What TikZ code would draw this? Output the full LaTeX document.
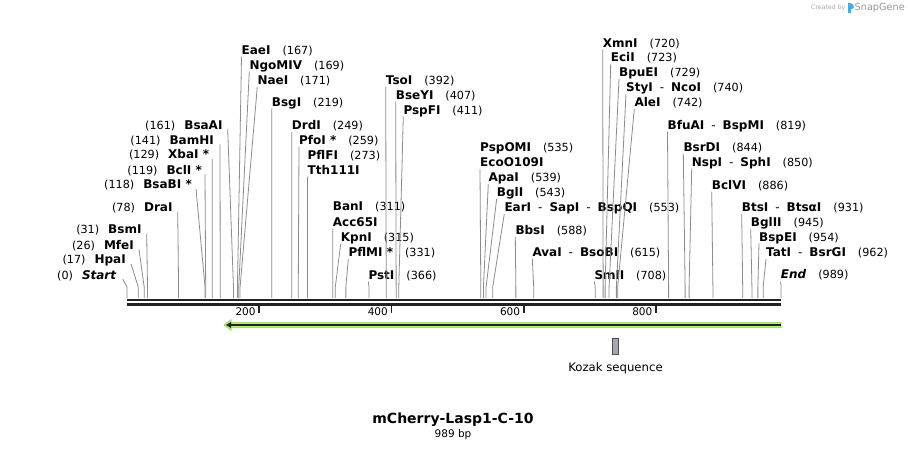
\documentclass[tikz,border=0pt]{standalone}
\usepackage{fontspec}
\setmainfont{DejaVu Sans}
\usetikzlibrary{arrows.meta}

\definecolor{leadgray}{RGB}{140,140,140}
\definecolor{barblack}{RGB}{34,34,34}
\definecolor{featgreen}{RGB}{180,240,120}
\definecolor{featedge}{RGB}{140,210,90}
\definecolor{kozakgray}{RGB}{164,167,171}
\definecolor{credgray}{RGB}{170,170,170}
\definecolor{snapblue}{RGB}{70,170,230}

\newcommand{\bpnum}[1]{\hspace{12pt}{\mdseries\fontsize{11.2}{13}\selectfont(#1)}}
\newcommand{\lnum}[1]{{\mdseries\fontsize{11.2}{13}\selectfont(#1)}\hspace{9pt}}
\newcommand{\dsep}{\hspace{7pt}{\mdseries -}\hspace{7pt}}

\begin{document}
\begin{tikzpicture}[x=1pt, y=-1pt,
    enz/.style={inner sep=0pt, font=\fontsize{12}{14}\selectfont\bfseries, text height=9pt, text depth=2pt},
    rlab/.style={enz, anchor=base west},
    llab/.style={enz, anchor=base east},
    leader/.style={draw=leadgray, line width=0.8pt},
    bar/.style={draw=barblack, line width=2.6pt},
    tick/.style={draw=barblack, line width=1.6pt},
    ticklbl/.style={inner sep=0pt, font=\fontsize{10.5}{12}\selectfont, anchor=east}]
  \fill[white] (0,0) rectangle (908,449);
  \useasboundingbox (0,0) rectangle (908,449);

  % cut sites on the sequence
  \foreach \p in {0,17,26,31,78,118,119,129,141,161,167,169,171,219,249,259,273,311,315,331,366,392,407,411,535,539,543,553,588,615,708,720,723,729,740,742,819,844,850,886,931,945,954,962,989}
    \coordinate (s\p) at ({127+0.6613*\p},298);

  % sequence and ruler
  \draw[bar] (127,300) -- (781,300);
  \draw[bar] (127,304.5) -- (781,304.5);
  \foreach \t in {200,400,600,800} {
    \draw[tick] ({127+0.6613*\t},305.5) -- ++(0,7.5);
    \node[ticklbl] (t\t) at ({127+0.6613*\t-3.5},312) {\t};
  }

  % enzymes, left side
  \node[llab] (Start) at (116.7,279.1) {\lnum{0}\textit{Start}};
  \node[llab] (HpaI) at (126,263.9) {\lnum{17}HpaI};
  \node[llab] (MfeI) at (134,249.4) {\lnum{26}MfeI};
  \node[llab] (BsmI) at (141.7,233.9) {\lnum{31}BsmI};
  \node[llab] (DraI) at (172.7,211.7) {\lnum{78}DraI};
  \node[llab] (BsaBI) at (192,188.9) {\lnum{118}BsaBI~*};
  \node[llab] (BclI) at (202,174.4) {\lnum{119}BclI~*};
  \node[llab] (XbaI) at (209.3,158.9) {\lnum{129}XbaI~*};
  \node[llab] (BamHI) at (214,144.4) {\lnum{141}BamHI};
  \node[llab] (BsaAI) at (222.7,129.4) {\lnum{161}BsaAI};
  \draw[leader] ([xshift=6pt]Start.base east) -- ([yshift=11pt]s0) -- (s0);
  \draw[leader] ([xshift=5pt]HpaI.base east) -- ([yshift=11pt]s17) -- (s17);
  \draw[leader] ([xshift=5pt]MfeI.base east) -- ([yshift=11pt]s26) -- (s26);
  \draw[leader] ([xshift=5pt]BsmI.base east) -- ([yshift=11pt]s31) -- (s31);
  \draw[leader] ([xshift=5pt]DraI.base east) -- ([yshift=11pt]s78) -- (s78);
  \draw[leader] ([xshift=4pt]BsaBI.base east) -- ([yshift=11pt]s118) -- (s118);
  \draw[leader] ([xshift=3pt]BclI.base east) -- ([yshift=11pt]s119) -- (s119);
  \draw[leader] ([xshift=3pt]XbaI.base east) -- ([yshift=11pt]s129) -- (s129);
  \draw[leader] ([xshift=6pt]BamHI.base east) -- ([yshift=11pt]s141) -- (s141);
  \draw[leader] ([xshift=5pt]BsaAI.base east) -- ([yshift=11pt]s161) -- (s161);

  % enzymes, right side
  \node[rlab] (EaeI) at (241.5,54.4) {EaeI\bpnum{167}};
  \node[rlab] (NgoMIV) at (249.3,69.4) {NgoMIV\bpnum{169}};
  \node[rlab] (NaeI) at (257.3,84.4) {NaeI\bpnum{171}};
  \node[rlab] (BsgI) at (271.7,106.4) {BsgI\bpnum{219}};
  \node[rlab] (DrdI) at (291.7,129.9) {DrdI\bpnum{249}};
  \node[rlab] (PfoI) at (299,144.4) {PfoI~*\bpnum{259}};
  \node[rlab] (PflFI) at (307.5,159.4) {PflFI\bpnum{273}};
  \node[rlab] (Tth111I) at (307.5,174.4) {Tth111I};
  \node[rlab] (BanI) at (332.7,210.4) {BanI\bpnum{311}};
  \node[rlab] (Acc65I) at (332.7,226.7) {Acc65I};
  \node[rlab] (KpnI) at (340.7,241.7) {KpnI\bpnum{315}};
  \node[rlab] (PflMI) at (348.3,256.7) {PflMI~*\bpnum{331}};
  \node[rlab] (PstI) at (368.3,279.4) {PstI\bpnum{366}};
  \node[rlab] (TsoI) at (385.7,84.4) {TsoI\bpnum{392}};
  \node[rlab] (BseYI) at (395.7,99.4) {BseYI\bpnum{407}};
  \node[rlab] (PspFI) at (403.3,114.4) {PspFI\bpnum{411}};
  \node[rlab] (PspOMI) at (480,151.7) {PspOMI\bpnum{535}};
  \node[rlab] (EcoO109I) at (480,166.7) {EcoO109I};
  \node[rlab] (ApaI) at (488.3,181.7) {ApaI\bpnum{539}};
  \node[rlab] (BglI) at (496.7,196.4) {BglI\bpnum{543}};
  \node[rlab] (EarI) at (504.3,211.7) {EarI\dsep SapI\dsep BspQI\bpnum{553}};
  \node[rlab] (BbsI) at (515.3,234.4) {BbsI\bpnum{588}};
  \node[rlab] (AvaI) at (532.3,256.4) {AvaI\dsep BsoBI\bpnum{615}};
  \node[rlab] (SmlI) at (594.3,279.1) {SmlI\bpnum{708}};
  \node[rlab] (XmnI) at (602.7,47.1) {XmnI\bpnum{720}};
  \node[rlab] (EciI) at (610.7,61.7) {EciI\bpnum{723}};
  \node[rlab] (BpuEI) at (619,76.7) {BpuEI\bpnum{729}};
  \node[rlab] (StyI) at (626,91.7) {StyI\dsep NcoI\bpnum{740}};
  \node[rlab] (AleI) at (634.3,106.7) {AleI\bpnum{742}};
  \node[rlab] (BfuAI) at (667.5,129.4) {BfuAI\dsep BspMI\bpnum{819}};
  \node[rlab] (BsrDI) at (683.3,151.4) {BsrDI\bpnum{844}};
  \node[rlab] (NspI) at (691.7,166.4) {NspI\dsep SphI\bpnum{850}};
  \node[rlab] (BclVI) at (711.7,189.4) {BclVI\bpnum{886}};
  \node[rlab] (BtsI) at (741.7,211.7) {BtsI\dsep BtsαI\bpnum{931}};
  \node[rlab] (BglII) at (750.7,226.7) {BglII\bpnum{945}};
  \node[rlab] (BspEI) at (759,241.1) {BspEI\bpnum{954}};
  \node[rlab] (TatI) at (766,256.7) {TatI\dsep BsrGI\bpnum{962}};
  \node[rlab] (End) at (780.7,278.9) {\textit{End}\bpnum{989}};

  \draw[leader] (EaeI.south west) -- ([yshift=11pt]s167) -- (s167);
  \draw[leader] (NgoMIV.south west) -- ([yshift=11pt]s169) -- (s169);
  \draw[leader] (NaeI.south west) -- ([yshift=11pt]s171) -- (s171);
  \draw[leader] (BsgI.south west) -- ([yshift=11pt]s219) -- (s219);
  \draw[leader] (DrdI.south west) -- ([yshift=11pt]s249) -- (s249);
  \draw[leader] (PfoI.south west) -- ([yshift=11pt]s259) -- (s259);
  \draw[leader] (Tth111I.south west) -- ([yshift=11pt]s273) -- (s273);
  \draw[leader] (Acc65I.south west) -- ([yshift=11pt]s311) -- (s311);
  \draw[leader] (KpnI.south west) -- ([yshift=11pt]s315) -- (s315);
  \draw[leader] (PflMI.south west) -- ([yshift=11pt]s331) -- (s331);
  \draw[leader] (PstI.south west) -- ([yshift=11pt]s366) -- (s366);
  \draw[leader] (TsoI.south west) -- ([yshift=11pt]s392) -- (s392);
  \draw[leader] (BseYI.south west) -- ([yshift=11pt]s407) -- (s407);
  \draw[leader] (PspFI.south west) -- ([yshift=11pt]s411) -- (s411);
  \draw[leader] (EcoO109I.south west) -- ([yshift=11pt]s535) -- (s535);
  \draw[leader] (ApaI.south west) -- ([yshift=11pt]s539) -- (s539);
  \draw[leader] (BglI.south west) -- ([yshift=11pt]s543) -- (s543);
  \draw[leader] (EarI.south west) -- ([yshift=11pt]s553) -- (s553);
  \draw[leader] (BbsI.south west) -- ([yshift=11pt]s588) -- (s588);
  \draw[leader] (AvaI.south west) -- ([yshift=11pt]s615) -- (s615);
  \draw[leader] (SmlI.south west) -- ([yshift=11pt]s708) -- (s708);
  \draw[leader] (XmnI.south west) -- ([yshift=11pt]s720) -- (s720);
  \draw[leader] (EciI.south west) -- ([yshift=11pt]s723) -- (s723);
  \draw[leader] (BpuEI.south west) -- ([yshift=11pt]s729) -- (s729);
  \draw[leader] (StyI.south west) -- ([yshift=11pt]s740) -- (s740);
  \draw[leader] (AleI.south west) -- ([yshift=11pt]s742) -- (s742);
  \draw[leader] (BfuAI.south west) -- ([yshift=11pt]s819) -- (s819);
  \draw[leader] (BsrDI.south west) -- ([yshift=11pt]s844) -- (s844);
  \draw[leader] (NspI.south west) -- ([yshift=11pt]s850) -- (s850);
  \draw[leader] (BclVI.south west) -- ([yshift=11pt]s886) -- (s886);
  \draw[leader] (BtsI.south west) -- ([yshift=11pt]s931) -- (s931);
  \draw[leader] (BglII.south west) -- ([yshift=11pt]s945) -- (s945);
  \draw[leader] (BspEI.south west) -- ([yshift=11pt]s954) -- (s954);
  \draw[leader] (TatI.south west) -- ([yshift=11pt]s962) -- (s962);
  \draw[leader] (End.south west) -- ([yshift=11pt]s989) -- (s989);

  % features
  \filldraw[fill=featgreen, draw=featedge, line width=0.6pt]
    (781,322.3) -- (231,322.3) -- (231,319.8) -- (224,325) -- (231,330.2) -- (231,327.7) -- (781,327.7) -- cycle;
  \draw[barblack, line width=1.6pt, -{Triangle[length=5pt,width=5.5pt]}] (781,325) -- (226,325);
  \filldraw[fill=kozakgray, draw=barblack!80, line width=0.7pt] (612.3,338.3) rectangle (618.7,354.3);
  \node[inner sep=0pt, anchor=base, font=\fontsize{11.7}{13}\selectfont] (kozak) at (615.5,371.3) {Kozak sequence};

  % title
  \node[inner sep=0pt, anchor=base, font=\fontsize{14}{16}\selectfont\bfseries] (title) at (453,423.4) {mCherry-Lasp1-C-10};
  \node[inner sep=0pt, anchor=base, font=\fontsize{10.5}{12}\selectfont] (length) at (453,437) {989 bp};

  % credit
  \node[inner sep=0pt, anchor=base west, text=credgray, font=\fontsize{6.2}{7}\selectfont] (credit) at (811,10) {Created by};
  \fill[snapblue] (848,3.5) rectangle (851,13.5);
  \fill[snapblue] (851,3.5) -- (853.5,5) -- (853.5,8) -- (851,9.5) -- cycle;
  \node[inner sep=0pt, anchor=base west, text=credgray!90!black, font=\fontsize{9.7}{11}\selectfont] (snapgene) at (854.5,11) {SnapGene};
\end{tikzpicture}
\end{document}
